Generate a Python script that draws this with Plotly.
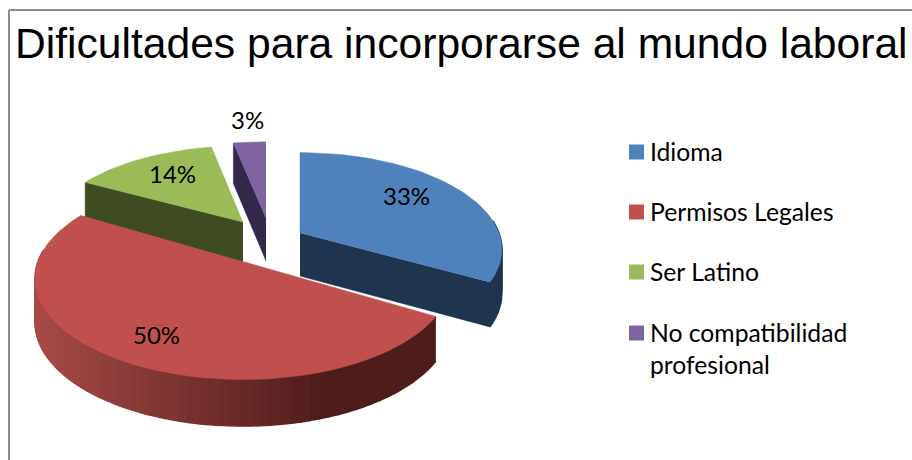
import math
import plotly.graph_objects as go

categories = ["Idioma", "Permisos Legales", "Ser Latino", "No compatibilidad<br>profesional"]
values = [33, 50, 14, 3]
labels = ["33%", "50%", "14%", "3%"]
title_text = "Dificultades para incorporarse al mundo laboral"

face_colors = ["#4f81bd", "#c0504d", "#9bbb59", "#8064a2"]
side_colors = ["#1f344f", "#4e1c1b", "#3f4c22", "#33284a"]

# layout of the exploded 3-D pie (pixels of the 912x460 frame)
apex = [(300, 233), (243, 261.5), (243, 222), (266, 218)]
rx_scale = [0.98, 1.01, 0.96, 1.0]
ry_scale = [0.96, 1.0, 0.91, 0.91]
turn_deg = [0, 2, 0, 0]
label_pos = [(406, 195.5), (156, 334), (172, 173), (247, 119)]
legend_y = [152, 212, 272, 333]
legend_text_y = [151, 211, 271, 348]
RX, RY, PERSP, DEPTH = 203, 98, 0.17, 43
FONT = "Lato"


def project(i, theta, drop=0.0):
    ax, ay = apex[i]
    X, Z = math.sin(theta), math.cos(theta)
    s = 1 / (1 + PERSP * Z)
    return (ax + RX * rx_scale[i] * X * s,
            ay - RY * ry_scale[i] * Z * s + drop * (1 + (s - 1) * 0.4))


def mix(c1, c2, t):
    a = [int(c1[i:i + 2], 16) for i in (1, 3, 5)]
    b = [int(c2[i:i + 2], 16) for i in (1, 3, 5)]
    return "rgb(%d,%d,%d)" % tuple(round(p + (q - p) * t) for p, q in zip(a, b))


fig = go.Figure()


def poly(pts, color, lw=0.5):
    fig.add_trace(go.Scatter(
        x=[p[0] for p in pts], y=[p[1] for p in pts], mode="lines",
        fill="toself", fillcolor=color, line=dict(color=color, width=lw),
        hoverinfo="skip", showlegend=False))


total = sum(values)
bounds = [0.0]
for v in values:
    bounds.append(bounds[-1] + v / total * 2 * math.pi)

# back slices first, the big front slice last
for i in [3, 2, 0, 1]:
    turn = math.radians(turn_deg[i])
    t0, t1 = bounds[i] + turn, bounds[i + 1] + turn
    ax, ay = apex[i]
    steps = max(8, int((t1 - t0) * 24))
    thetas = [t0 + (t1 - t0) * k / steps for k in range(steps + 1)]

    # straight cut face that looks at the viewer
    edge = {0: t1, 2: t0, 3: t0}.get(i)
    if edge is not None:
        p = project(i, edge)
        q = project(i, edge, drop=DEPTH)
        poly([(ax, ay), p, q, (ax, ay + DEPTH)], side_colors[i])

    # outer rim, in strips that overlap a little
    for a, b in zip(thetas[:-1], thetas[1:]):
        if math.cos((a + b) / 2) > 0.12:
            continue
        pa, pb = project(i, a), project(i, b)
        qa, qb = project(i, a, drop=DEPTH), project(i, b, drop=DEPTH)
        if i == 1:
            t = min(1, max(0, ((pa[0] + pb[0]) / 2 - 34) / 290))
            col = mix("#a84a47", side_colors[1], t)
        else:
            col = side_colors[i]
        poly([pa, pb, qb, qa], col, lw=1.5)

    # top face
    poly([(ax, ay)] + [project(i, t) for t in thetas], face_colors[i])

for (x, y), text in zip(label_pos, labels):
    fig.add_annotation(x=x, y=y, text=text, showarrow=False,
                       font=dict(family=FONT, size=24, color="#000000"))

# legend: swatches and texts
shapes = [
    dict(type="line", xref="x", yref="y", x0=9, x1=9, y0=10, y1=460,
         line=dict(color="#8c8c8c", width=2)),
    dict(type="line", xref="x", yref="y", x0=9, x1=912, y0=10, y1=10,
         line=dict(color="#8c8c8c", width=2)),
]
for name, color, sy, ty in zip(categories, face_colors, legend_y, legend_text_y):
    shapes.append(dict(type="rect", xref="x", yref="y", x0=629, x1=644,
                       y0=sy - 7.5, y1=sy + 7.5, fillcolor=color, line=dict(width=0)))
    fig.add_annotation(x=648, y=ty, text=name, showarrow=False, xanchor="left",
                       align="left", font=dict(family=FONT, size=24.7, color="#000000"))

fig.update_layout(
    width=912, height=460,
    margin=dict(l=0, r=0, t=0, b=0),
    showlegend=False,
    paper_bgcolor="#ffffff", plot_bgcolor="#ffffff",
    title=dict(text=title_text, x=15 / 912, xanchor="left", xref="paper",
               y=1 - 43.5 / 460, yanchor="middle", yref="paper",
               font=dict(family="Liberation Sans", size=42.6, color="#000000")),
    xaxis=dict(range=[0, 912], visible=False, fixedrange=True),
    yaxis=dict(range=[460, 0], visible=False, fixedrange=True),
    shapes=shapes,
)
fig.write_html("out.html", config={"displayModeBar": False},
               post_script="document.body.style.margin='0';document.body.style.overflow='hidden';window.dispatchEvent(new Event('resize'));")
